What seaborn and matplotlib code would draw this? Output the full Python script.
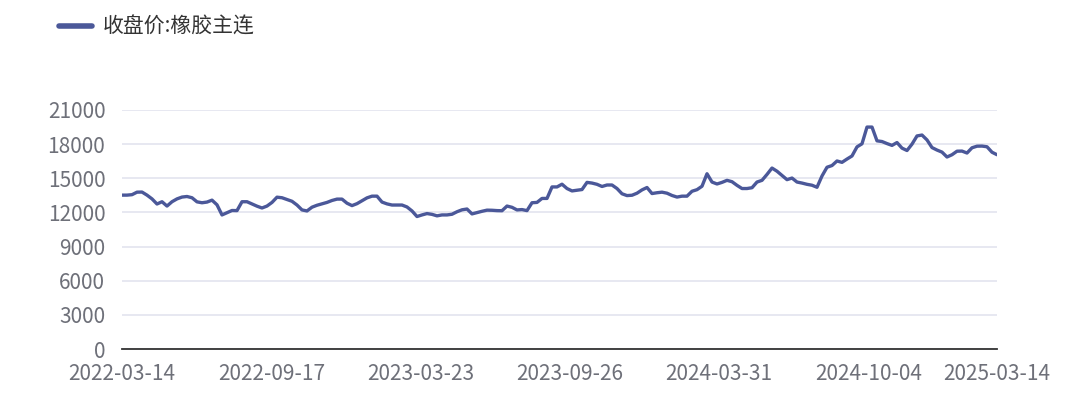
import numpy as np
import pandas as pd
import matplotlib
matplotlib.use("Agg")
import matplotlib.pyplot as plt
import matplotlib.dates as mdates
import seaborn as sns
from matplotlib.lines import Line2D

start_date = "2022-03-14"
end_date = "2025-03-14"
series_name = "收盘价:橡胶主连"
close_values = [
    13520, 13520, 13560, 13780, 13790, 13520, 13190, 12740, 12940, 12560,
    12940, 13190, 13350, 13400, 13290, 12930, 12850, 12910, 13080, 12670,
    11780, 11980, 12170, 12160, 12940, 12940, 12750, 12550, 12390, 12560,
    12880, 13340, 13290, 13140, 12980, 12650, 12220, 12130, 12460, 12630,
    12760, 12880, 13050, 13170, 13170, 12810, 12600, 12770, 13030, 13280,
    13430, 13430, 12910, 12750, 12650, 12650, 12650, 12480, 12130, 11640,
    11780, 11900, 11830, 11700, 11780, 11780, 11840, 12060, 12230, 12300,
    11870, 11990, 12100, 12200, 12190, 12160, 12150, 12560, 12450, 12220,
    12250, 12160, 12850, 12880, 13230, 13230, 14240, 14240, 14480, 14100,
    13890, 13950, 14010, 14640, 14580, 14470, 14280, 14410, 14410, 14100,
    13640, 13480, 13510, 13690, 13980, 14190, 13660, 13730, 13780, 13690,
    13490, 13350, 13430, 13430, 13860, 14000, 14300, 15400, 14670, 14500,
    14640, 14820, 14700, 14380, 14100, 14100, 14170, 14670, 14820, 15340,
    15900, 15620, 15250, 14880, 15020, 14670, 14580, 14470, 14390, 14210,
    15200, 15970, 16120, 16520, 16400, 16690, 16960, 17760, 18030, 19500,
    19500, 18290, 18230, 18050, 17890, 18140, 17650, 17440, 18000, 18720,
    18800, 18370, 17700, 17480, 17300, 16870, 17070, 17380, 17390, 17220,
    17680, 17820, 17830, 17770, 17290, 17070,
]
tick_dates = ["2022-03-14", "2022-09-17", "2023-03-23", "2023-09-26",
              "2024-03-31", "2024-10-04", "2025-03-14"]
y_ticks = [0, 3000, 6000, 9000, 12000, 15000, 18000, 21000]

dates = pd.date_range(start_date, end_date, periods=len(close_values))
df = pd.DataFrame({"date": dates, "value": close_values, "series": series_name})

sns.set_theme(style="white")
plt.rcParams["font.family"] = ["Noto Sans CJK SC", "DejaVu Sans"]

line_color = "#4b5899"
label_color = "#6e7079"

fig = plt.figure(figsize=(10.88, 3.98), dpi=100)
ax = fig.add_axes([122 / 1088, 1 - 349 / 398, (997 - 122) / 1088, (349 - 110) / 398])

sns.lineplot(data=df, x="date", y="value", hue="series", palette=[line_color],
             linewidth=2.4, ax=ax, legend=False)

ax.set_xlim(pd.Timestamp(start_date), pd.Timestamp(end_date))
ax.set_ylim(0, 21000)
ax.set_yticks(y_ticks)
ax.set_yticklabels([str(v) for v in y_ticks])
ax.set_xticks([pd.Timestamp(d) for d in tick_dates])
ax.set_xticklabels(tick_dates)
ax.set_xlabel("")
ax.set_ylabel("")

ax.grid(axis="y", color="#e0e2ee", linewidth=1.1)
ax.grid(axis="x", visible=False)
for s in ["left", "right", "top"]:
    ax.spines[s].set_visible(False)
ax.spines["bottom"].set_color("#333333")
ax.spines["bottom"].set_linewidth(1.3)
ax.tick_params(axis="x", colors="#333333", direction="out", length=6, width=1.3,
               labelcolor=label_color, labelsize=15, pad=4)
ax.tick_params(axis="y", length=0, labelcolor=label_color, labelsize=15, pad=12)
ax.set_axisbelow(True)

# legend
handle = Line2D([0], [0], color=line_color, linewidth=4)
fig.legend([handle], [series_name], loc="upper left", bbox_to_anchor=(0.037, 1.007),
           frameon=False, fontsize=15, handlelength=1.6, handletextpad=0.5,
           labelcolor="#333333")

fig.savefig("out.png", dpi=100)
